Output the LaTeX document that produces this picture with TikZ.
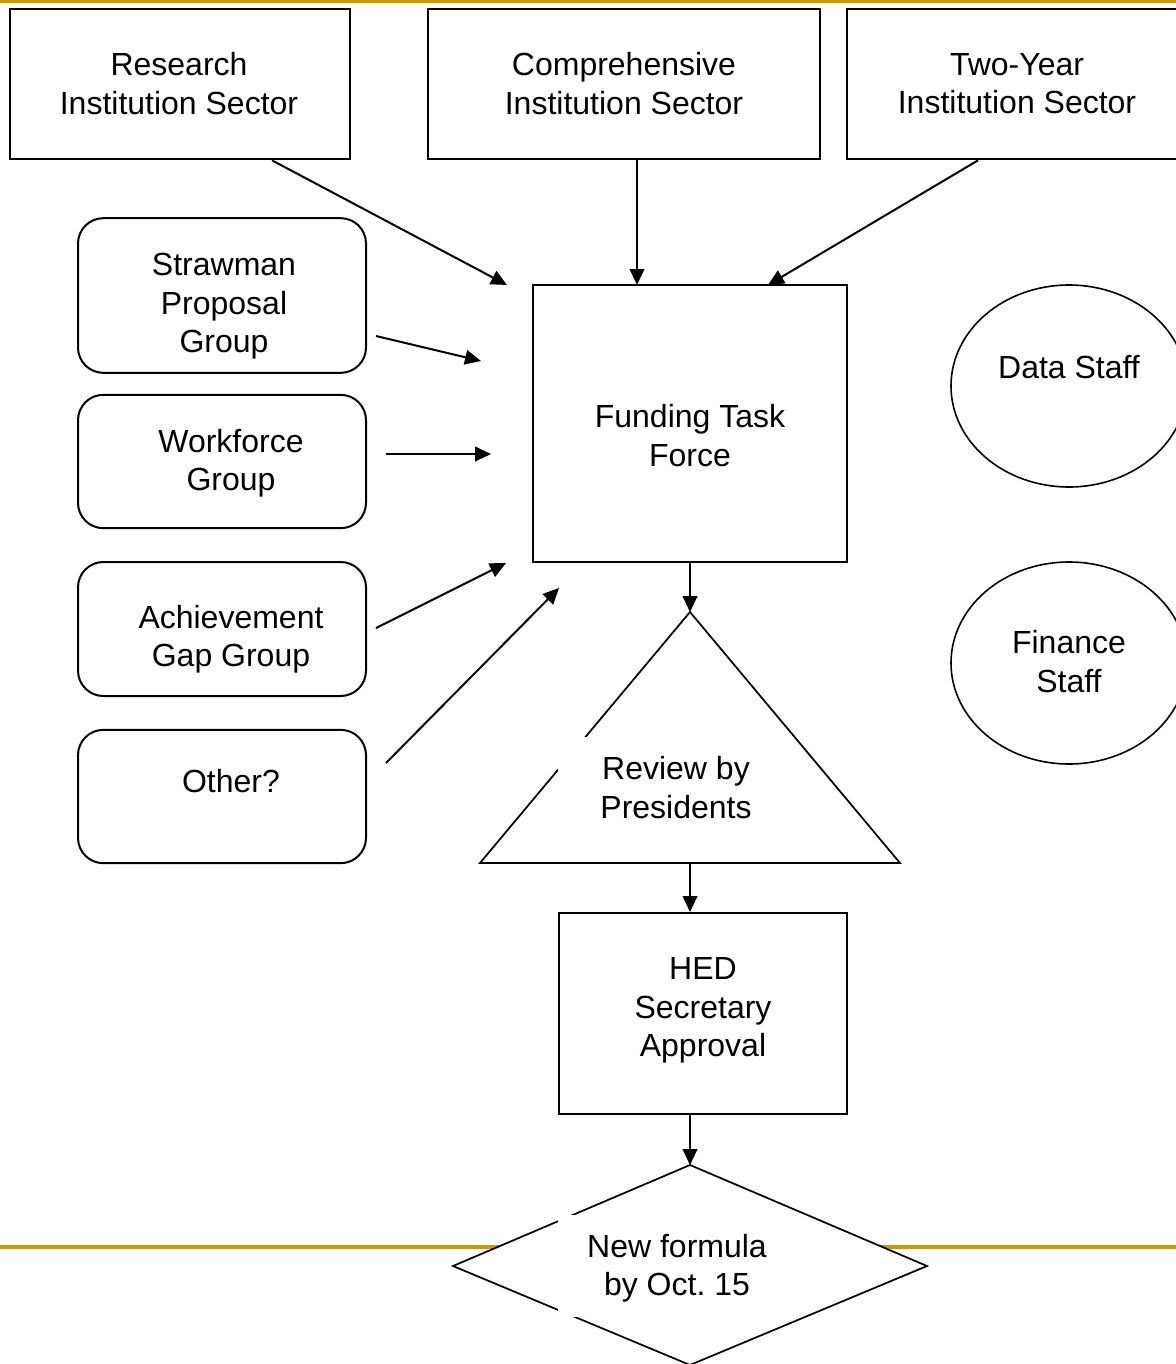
\documentclass[tikz,border=0pt]{standalone}
\usepackage{fontspec}
\setmainfont{Liberation Sans}
\usetikzlibrary{arrows.meta,shapes.geometric}
\definecolor{gold}{RGB}{204,153,0}
\frenchspacing
\begin{document}
\begin{tikzpicture}[x=0.75pt,y=-0.75pt,
  every node/.style={font=\fontsize{24}{28.8}\selectfont, align=center},
  box/.style={draw, line width=1.5pt, inner sep=0pt},
  rbox/.style={draw, line width=1.5pt, rounded corners=19pt, inner sep=0pt, minimum width=216pt},
  txt/.style={inner sep=0pt},
  gap/.style={fill=white, inner sep=0pt},
  arr/.style={line width=1.5pt, -{Triangle[length=12pt,width=11pt]}},
  goldline/.style={gold, line width=3pt}]
\useasboundingbox (0,0) rectangle (1176,1364);
\clip (0,0) rectangle (1176,1364);
% gold rules
\fill[gold] (0,0) rectangle (1176,3);
\draw[goldline] (0,1247) -- (1176,1247);

% top sector boxes
\node[box, minimum width=255pt, minimum height=113pt] (rs) at (179.5,84) {};
\node[txt] (rst) at (179,83.5) {Research\\Institution Sector};
\node[box, minimum width=294pt, minimum height=113pt] (cs) at (624,84) {};
\node[txt] (cst) at (624,83.5) {Comprehensive\\Institution Sector};
\node[box, minimum width=255pt, minimum height=113pt] (ts) at (1017,84) {};
\node[txt] (tst) at (1017,83.5) {Two-Year\\Institution Sector};

% left groups
\node[rbox, minimum height=116pt] (sp) at (222,295.5) {};
\node[txt] (spt) at (224,306.5) {Strawman\\Proposal\\Group};
\node[rbox, minimum height=100pt] (wf) at (222,461.5) {};
\node[txt] (wft) at (231,463) {Workforce\\Group};
\node[rbox, minimum height=100.5pt] (ag) at (222,629) {};
\node[txt] (agt) at (231,639) {Achievement\\Gap Group};
\node[rbox, minimum height=100pt] (ot) at (222,796.5) {};
\node[txt] (ott) at (231,781) {Other?};

% funding task force
\node[box, minimum width=235.5pt, minimum height=207.75pt] (ftf) at (690,423.5) {};
\node[txt] (ftft) at (690,435.5) {Funding Task\\Force};

% staff ellipses
\node[draw, line width=1.2pt, ellipse, minimum width=177pt, minimum height=151.5pt, inner sep=0pt] (ds) at (1069,386) {};
\node[txt] (dst) at (1069,367) {Data Staff};
\node[draw, line width=1.2pt, ellipse, minimum width=177pt, minimum height=151.5pt, inner sep=0pt] (fs) at (1069,663) {};
\node[txt] (fst) at (1069,661.5) {Finance\\Staff};

% triangle
\coordinate (tA) at (690,612);
\coordinate (tL) at (480,863);
\coordinate (tR) at (900,863);
\draw[line width=1.3pt, line join=miter] (tA) -- (tR) -- (tL) -- cycle;
\node[gap, minimum width=177pt, minimum height=75pt] (rv) at (676,787) {};
\node[txt] (rvt) at (676,787.5) {Review by\\Presidents};

% HED
\node[box, minimum width=216pt, minimum height=150.75pt] (hed) at (703,1013.5) {};
\node[txt] (hedt) at (703,1010.5) {HED\\Secretary\\Approval};

% diamond
\coordinate (dT) at (690,1165);
\coordinate (dL) at (453,1266);
\coordinate (dR) at (927,1266);
\coordinate (dB) at (690,1365);
\filldraw[fill=white, line width=1.3pt, line join=miter] (dT) -- (dR) -- (dB) -- (dL) -- cycle;
\node[gap, minimum width=178.5pt, minimum height=76.5pt] (nf) at (677,1266) {};
\node[txt] (nft) at (677,1268) {New formula\\by Oct. 15};

% arrows
\coordinate (e1) at (507,285);
\coordinate (e2) at (637,285);
\coordinate (e3) at (768,285);
\coordinate (s4) at (376,336);
\coordinate (e4) at (481,361);
\coordinate (s5) at (386,454);
\coordinate (e5) at (491,454);
\coordinate (s6) at (376,628);
\coordinate (e6) at (506,563);
\coordinate (s7) at (386,763);
\coordinate (e7) at (559,588);
\draw[arr] (rs.south -| 272,0) -- (e1);
\draw[arr] (cs.south -| 637,0) -- (e2);
\draw[arr] (ts.south -| 978,0) -- (e3);
\draw[arr] (s4) -- (e4);
\draw[arr] (s5) -- (e5);
\draw[arr] (s6) -- (e6);
\draw[arr] (s7) -- (e7);
\draw[arr] (ftf.south) -- (tA);
\draw[arr] (tL -| 690,0) -- (hed.north -| 690,0);
\draw[arr] (hed.south -| 690,0) -- (dT);
\end{tikzpicture}
\end{document}
